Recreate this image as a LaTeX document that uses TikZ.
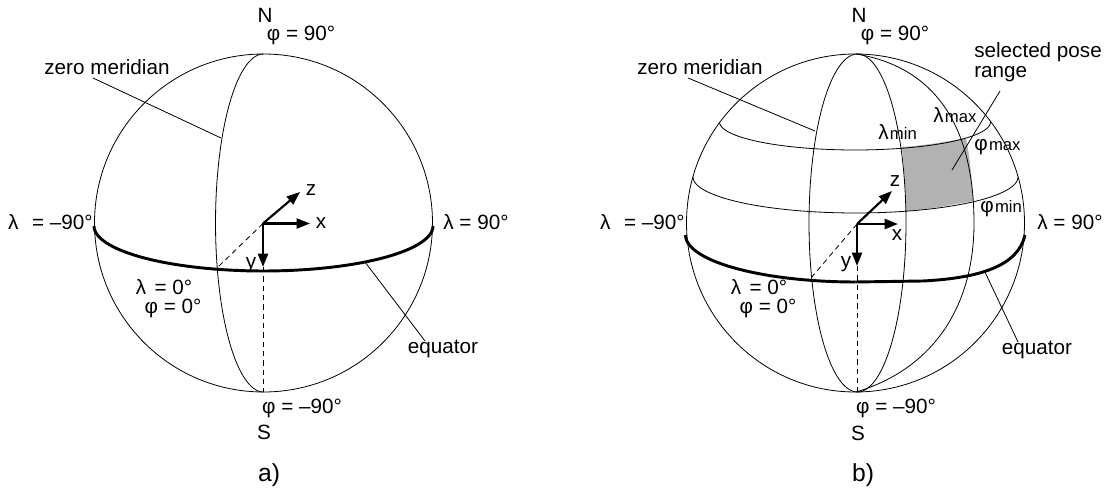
\documentclass[tikz,border=0pt]{standalone}
\usepackage{fontspec}
\setmainfont{Liberation Sans}
\usepackage{tikz}
\usetikzlibrary{arrows.meta}
\tikzset{
  thinline/.style={line width=0.6pt},
  equatorline/.style={line width=2.2pt},
  axisline/.style={line width=1.6pt,-{Triangle[length=10pt,width=7.5pt]}},
  hiddenline/.style={line width=0.6pt,dash pattern=on 4pt off 3pt},
  lab/.style={inner sep=0pt,font=\fontsize{15.5}{18}\selectfont},
  caplab/.style={inner sep=0pt,font=\fontsize{18.5}{20}\selectfont}
}
\newcommand{\subtxt}[1]{{\fontsize{12.5}{14}\selectfont\hspace{1pt}#1}}
\begin{document}
\begin{tikzpicture}[x=0.75pt,y=-0.75pt]
\useasboundingbox (0,0) rectangle (1107,491);
% sphere a
\draw[thinline] (263.5,223) circle (169);
\draw[thinline] plot[domain=90:270,samples=60] ({263.5+48*cos(\x)},{223+169*sin(\x)});
\draw[equatorline] plot[domain=0:180,samples=60] ({263.5+169.5*cos(\x)},{226+45*sin(\x)});
% axes a
\coordinate (oa) at (263,223.5);
\coordinate (xa) at (310,223.5);
\coordinate (ya) at (263,267);
\coordinate (za) at (300,192);
\coordinate (ba) at (218,267);
\coordinate (sa) at (263,392);
\draw[axisline] (oa) -- (xa);
\draw[axisline] (oa) -- (ya);
\draw[axisline] (oa) -- (za);
\draw[hiddenline] (oa) -- (ba);
\draw[hiddenline] (ya) -- (sa);
\node[lab] (xla) at (321,223) {x};
\node[lab] (zla) at (311,190) {z};
\node[lab] (yla) at (251,265) {y};
% labels a
\node[lab] (na) at (265,15) {N};
\node[lab] (npa) at (301,35) {φ = 90°};
\node[lab] (ra) at (476,222) {λ = 90°};
\node[lab,anchor=east] (la) at (93,222) {λ\hspace{6pt} = –90°};
\node[lab] (l0a) at (164,287) {λ\hspace{2pt} = 0°};
\node[lab] (p0a) at (173,308) {φ = 0°};
\node[lab] (spa) at (302,408) {φ = –90°};
\node[lab] (ssa) at (264,432) {S};
\node[caplab] (capa) at (269,475) {a)};
\node[lab] (mera) at (107,67) {zero meridian};
\node[lab] (eqa) at (443,349) {equator};
% leaders a
\coordinate (mera1) at (93,78);
\coordinate (mera2) at (221,138);
\coordinate (eqa1) at (425,341);
\coordinate (eqa2) at (365,262);
\draw[thinline] (mera1) -- (mera2);
\draw[thinline] (eqa1) -- (eqa2);
% sphere b
\fill[black!30] (902,147) .. controls (925,145.5) and (945,142) .. (966,138) .. controls (970,158) and (972,180) .. (973,201) .. controls (952,205) and (930,209) .. (906,211) .. controls (906,190) and (904,168) .. (902,147) -- cycle;
\draw[thinline] (855.5,223) circle (169);
\draw[thinline] plot[domain=0:360,samples=120] ({857.5+48.5*cos(\x)},{223+169*sin(\x)});
\draw[thinline] (856,54) .. controls (930,66) and (974,120) .. (974,223) .. controls (974,310) and (930,370) .. (856,392);
\draw[thinline] plot[domain=0:180,samples=60] ({855+135.5*cos(\x)},{122+28*sin(\x)});
\draw[thinline] plot[domain=0:180,samples=60] ({855.5+162.5*cos(\x)},{177+36*sin(\x)});
\draw[equatorline] (1025,235) .. controls (1018,266) and (980,278) .. (923,281) -- (855.5,282);
\draw[equatorline] plot[domain=90:180,samples=40] ({855.5+170*cos(\x)},{235+47*sin(\x)});
% axes b
\coordinate (ob) at (857,224);
\coordinate (xb) at (898,224);
\coordinate (yb) at (857,266);
\coordinate (zb) at (892,191);
\coordinate (bb) at (811,278);
\coordinate (sb) at (857,392);
\draw[axisline] (ob) -- (xb);
\draw[axisline] (ob) -- (yb);
\draw[axisline] (ob) -- (zb);
\draw[hiddenline] (ob) -- (bb);
\draw[hiddenline] (yb) -- (sb);
\node[lab] (xlb) at (897,235) {x};
\node[lab] (zlb) at (895,181) {z};
\node[lab] (ylb) at (846,264) {y};
% labels b
\node[lab] (nb) at (859,15) {N};
\node[lab] (npb) at (895,35) {φ = 90°};
\node[lab] (rb) at (1070,222) {λ = 90°};
\node[lab,anchor=east] (lb) at (685,222) {λ\hspace{6pt} = –90°};
\node[lab] (l0b) at (759,287) {λ\hspace{2pt} = 0°};
\node[lab] (p0b) at (768,308) {φ = 0°};
\node[lab] (spb) at (896,408) {φ = –90°};
\node[lab] (ssb) at (858,433) {S};
\node[caplab] (capb) at (863,475) {b)};
\node[lab] (merb) at (700,67) {zero meridian};
\node[lab] (eqb) at (1037,350) {equator};
\node[lab,anchor=west] (sela) at (974,52) {selected pose};
\node[lab,anchor=west] (selb) at (974,74) {range};
\node[lab,anchor=west] (lmin) at (878,132) {λ\subtxt{min}};
\node[lab,anchor=west] (lmax) at (933,115) {λ\subtxt{max}};
\node[lab,anchor=west] (pmax) at (974,147) {φ\subtxt{max}};
\node[lab,anchor=west] (pmin) at (980,209) {φ\subtxt{min}};
% leaders b
\coordinate (merb1) at (688,78);
\coordinate (merb2) at (815,131);
\coordinate (eqb1) at (1018,342);
\coordinate (eqb2) at (984,270);
\coordinate (sel1) at (1000,91);
\coordinate (sel2) at (952,170);
\draw[thinline] (merb1) -- (merb2);
\draw[thinline] (eqb1) -- (eqb2);
\draw[thinline] (sel1) -- (sel2);
\end{tikzpicture}
\end{document}
